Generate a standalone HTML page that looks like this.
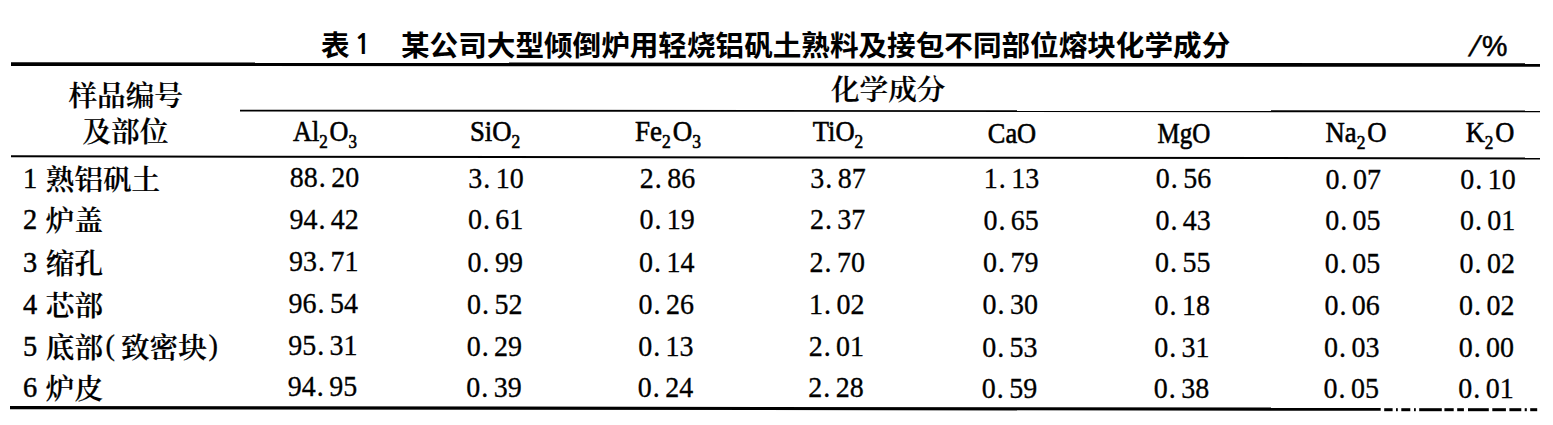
<!DOCTYPE html>
<html lang="zh-CN"><head><meta charset="utf-8"><title>表1 化学成分</title>
<style>
html,body{margin:0;padding:0;background:#fff;}
body{width:1553px;height:425px;position:relative;overflow:hidden;color:#000;}
.t{position:absolute;white-space:nowrap;line-height:1;font-size:28.4px;font-family:"Liberation Serif","Noto Serif CJK SC",serif;-webkit-text-stroke:0.45px #000;}
.c{text-align:center;width:200px;}
.n{font-size:28px;-webkit-text-stroke:0.3px #000;transform:scaleY(1.085);transform-origin:center 8px;}
.cj{font-family:"Noto Serif CJK SC",serif;font-weight:600;font-size:28.6px;-webkit-text-stroke:0.2px #000;}
.hd{font-family:"Noto Sans CJK SC",sans-serif;font-weight:700;font-size:28.6px;-webkit-text-stroke:0;}
.dot{display:inline-block;width:13.4px;text-indent:1px;text-align:left;}
.pl,.pr{display:inline-block;box-sizing:border-box;position:relative;top:-3.5px;font-family:"Liberation Serif",serif;font-weight:400;font-size:28.4px;-webkit-text-stroke:0.3px #000;}
.pl{width:18px;padding-left:2.5px}
.pr{width:14px;padding-left:1.7px}
sub{font-size:18.5px;vertical-align:-7.3px;line-height:0;}
sub.g{margin-right:2px;}
svg{position:absolute;left:0;top:0;}
</style></head><body>

<svg width="1553" height="425" viewBox="0 0 1553 425">
<line x1="11" y1="64.1" x2="1540" y2="65.0" stroke="#000" stroke-width="3.6"/>
<line x1="240" y1="110.6" x2="1540" y2="111.4" stroke="#000" stroke-width="1.8"/>
<line x1="11" y1="156.3" x2="1540" y2="158.5" stroke="#000" stroke-width="2"/>
<line x1="10" y1="407.6" x2="1380.7" y2="409.2" stroke="#000" stroke-width="3.2"/>
<rect x="1384.2" y="408.2" width="8.4" height="3" fill="#000"/>
<rect x="1396" y="408.2" width="1.8" height="3" fill="#000"/>
<rect x="1401.3" y="408.2" width="9.0" height="3" fill="#000"/>
<rect x="1414" y="408.2" width="1.8" height="3" fill="#000"/>
<rect x="1419.2" y="408.2" width="22.6" height="3" fill="#000"/>
<rect x="1444.4" y="408.2" width="9.3" height="3" fill="#000"/>
<rect x="1457.2" y="408.2" width="6.7" height="3" fill="#000"/>
<rect x="1468" y="408.2" width="20.8" height="3" fill="#000"/>
<rect x="1492.3" y="408.2" width="13.6" height="3" fill="#000"/>
<rect x="1509.4" y="408.2" width="11.9" height="3" fill="#000"/>
<rect x="1524.7" y="408.2" width="2.1" height="3" fill="#000"/>
<rect x="1530.2" y="408.2" width="7.0" height="3" fill="#000"/>
</svg>
<div class="t hd" style="left:321px;top:29.5px">表</div>
<div class="t" style="left:354px;top:29.6px;font-family:NanumGothic,sans-serif;font-weight:700;font-size:28.6px;-webkit-text-stroke:0">1</div>
<div class="t hd" style="left:401px;top:30.1px">某公司大型倾倒炉用轻烧铝矾土熟料及接包不同部位熔块化学成分</div>
<div class="t" style="left:1471px;top:31.8px;font-family:'Liberation Sans',sans-serif;font-weight:400;font-size:28.6px;-webkit-text-stroke:0.5px #000"><span style="display:inline-block;transform:skewX(-17deg);margin-right:3px">/</span>%</div>
<div class="t cj" style="left:68.5px;top:80.3px">样品编号</div>
<div class="t cj" style="left:82.5px;top:116.3px">及部位</div>
<div class="t cj" style="left:831px;top:74.0px">化学成分</div>
<div class="t c" style="left:224.5px;top:118.0px;transform:scaleX(0.92);-webkit-text-stroke:0.6px #000">Al<sub class=g>2</sub>O<sub>3</sub></div>
<div class="t c" style="left:394.8px;top:118.1px;transform:scaleX(0.94);-webkit-text-stroke:0.6px #000">SiO<sub>2</sub></div>
<div class="t c" style="left:568px;top:118.2px;transform:scaleX(0.95);-webkit-text-stroke:0.6px #000">Fe<sub class=g>2</sub>O<sub>3</sub></div>
<div class="t c" style="left:738.3px;top:118.3px;transform:scaleX(0.935);-webkit-text-stroke:0.6px #000">TiO<sub>2</sub></div>
<div class="t c" style="left:912px;top:120.2px;transform:scaleX(0.93);-webkit-text-stroke:0.6px #000">CaO</div>
<div class="t c" style="left:1084px;top:120.3px;transform:scaleX(0.88);-webkit-text-stroke:0.6px #000">MgO</div>
<div class="t c" style="left:1256px;top:118.6px;transform:scaleX(0.94);-webkit-text-stroke:0.6px #000">Na<sub class=g>2</sub>O</div>
<div class="t c" style="left:1390.3px;top:118.7px;transform:scaleX(0.93);-webkit-text-stroke:0.6px #000">K<sub class=g>2</sub>O</div>
<div class="t" style="left:23.0px;top:164.0px"><span style="position:relative;top:-2px">1</span> <span class="cj" style="margin-left:1.5px">熟铝矾土</span></div>
<div class="t c n" style="left:224.5px;top:163.4px">88<span class="dot">.</span>20</div>
<div class="t c n" style="left:396.0px;top:163.6px">3<span class="dot">.</span>10</div>
<div class="t c n" style="left:567.5px;top:163.8px">2<span class="dot">.</span>86</div>
<div class="t c n" style="left:738.0px;top:164.0px">3<span class="dot">.</span>87</div>
<div class="t c n" style="left:911.5px;top:164.2px">1<span class="dot">.</span>13</div>
<div class="t c n" style="left:1083.5px;top:164.4px">0<span class="dot">.</span>56</div>
<div class="t c n" style="left:1253.3px;top:164.6px">0<span class="dot">.</span>07</div>
<div class="t c n" style="left:1388.0px;top:164.7px">0<span class="dot">.</span>10</div>
<div class="t" style="left:23.0px;top:205.4px"><span style="position:relative;top:-2px">2</span> <span class="cj" style="margin-left:1.5px">炉盖</span></div>
<div class="t c n" style="left:224.1px;top:204.8px">94<span class="dot">.</span>42</div>
<div class="t c n" style="left:395.6px;top:205.0px">0<span class="dot">.</span>61</div>
<div class="t c n" style="left:567.1px;top:205.2px">0<span class="dot">.</span>19</div>
<div class="t c n" style="left:737.6px;top:205.4px">2<span class="dot">.</span>37</div>
<div class="t c n" style="left:911.1px;top:205.7px">0<span class="dot">.</span>65</div>
<div class="t c n" style="left:1083.1px;top:205.9px">0<span class="dot">.</span>43</div>
<div class="t c n" style="left:1252.9px;top:206.1px">0<span class="dot">.</span>05</div>
<div class="t c n" style="left:1387.6px;top:206.2px">0<span class="dot">.</span>01</div>
<div class="t" style="left:23.0px;top:247.8px"><span style="position:relative;top:-2px">3</span> <span class="cj" style="margin-left:1.5px">缩孔</span></div>
<div class="t c n" style="left:223.7px;top:247.2px">93<span class="dot">.</span>71</div>
<div class="t c n" style="left:395.2px;top:247.5px">0<span class="dot">.</span>99</div>
<div class="t c n" style="left:566.7px;top:247.7px">0<span class="dot">.</span>14</div>
<div class="t c n" style="left:737.2px;top:247.9px">2<span class="dot">.</span>70</div>
<div class="t c n" style="left:910.7px;top:248.1px">0<span class="dot">.</span>79</div>
<div class="t c n" style="left:1082.7px;top:248.3px">0<span class="dot">.</span>55</div>
<div class="t c n" style="left:1252.5px;top:248.6px">0<span class="dot">.</span>05</div>
<div class="t c n" style="left:1387.2px;top:248.7px">0<span class="dot">.</span>02</div>
<div class="t" style="left:23.0px;top:290.0px"><span style="position:relative;top:-2px">4</span> <span class="cj" style="margin-left:1.5px">芯部</span></div>
<div class="t c n" style="left:223.3px;top:289.4px">96<span class="dot">.</span>54</div>
<div class="t c n" style="left:394.8px;top:289.7px">0<span class="dot">.</span>52</div>
<div class="t c n" style="left:566.3px;top:289.9px">0<span class="dot">.</span>26</div>
<div class="t c n" style="left:736.8px;top:290.2px">1<span class="dot">.</span>02</div>
<div class="t c n" style="left:910.3px;top:290.4px">0<span class="dot">.</span>30</div>
<div class="t c n" style="left:1082.3px;top:290.6px">0<span class="dot">.</span>18</div>
<div class="t c n" style="left:1252.1px;top:290.9px">0<span class="dot">.</span>06</div>
<div class="t c n" style="left:1386.8px;top:291.1px">0<span class="dot">.</span>02</div>
<div class="t" style="left:23.0px;top:332.0px"><span style="position:relative;top:-2px">5</span> <span class="cj" style="margin-left:1.5px">底部<span class="pl">(</span>致密块<span class="pr">)</span></span></div>
<div class="t c n" style="left:222.9px;top:331.4px">95<span class="dot">.</span>31</div>
<div class="t c n" style="left:394.4px;top:331.7px">0<span class="dot">.</span>29</div>
<div class="t c n" style="left:565.9px;top:332.0px">0<span class="dot">.</span>13</div>
<div class="t c n" style="left:736.4px;top:332.2px">2<span class="dot">.</span>01</div>
<div class="t c n" style="left:909.9px;top:332.5px">0<span class="dot">.</span>53</div>
<div class="t c n" style="left:1081.9px;top:332.7px">0<span class="dot">.</span>31</div>
<div class="t c n" style="left:1251.7px;top:333.0px">0<span class="dot">.</span>03</div>
<div class="t c n" style="left:1386.4px;top:333.2px">0<span class="dot">.</span>00</div>
<div class="t" style="left:23.0px;top:373.0px"><span style="position:relative;top:-2px">6</span> <span class="cj" style="margin-left:1.5px">炉皮</span></div>
<div class="t c n" style="left:222.5px;top:372.4px">94<span class="dot">.</span>95</div>
<div class="t c n" style="left:394.0px;top:372.7px">0<span class="dot">.</span>39</div>
<div class="t c n" style="left:565.5px;top:373.0px">0<span class="dot">.</span>24</div>
<div class="t c n" style="left:736.0px;top:373.3px">2<span class="dot">.</span>28</div>
<div class="t c n" style="left:909.5px;top:373.5px">0<span class="dot">.</span>59</div>
<div class="t c n" style="left:1081.5px;top:373.8px">0<span class="dot">.</span>38</div>
<div class="t c n" style="left:1251.3px;top:374.1px">0<span class="dot">.</span>05</div>
<div class="t c n" style="left:1386.0px;top:374.3px">0<span class="dot">.</span>01</div>
</body></html>
